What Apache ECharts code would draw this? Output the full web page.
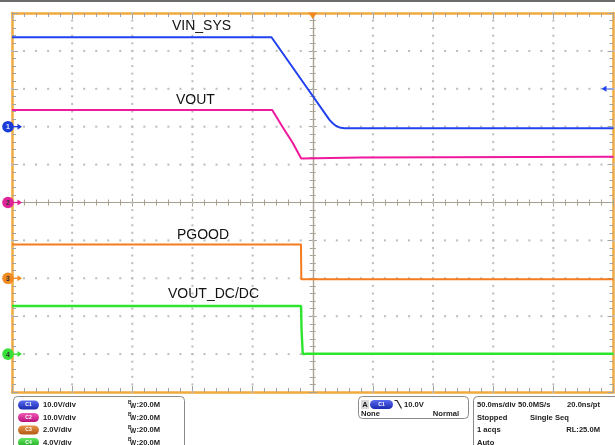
<!DOCTYPE html>
<html>
<head>
<meta charset="utf-8">
<script src="https://cdn.jsdelivr.net/npm/echarts@6/dist/echarts.min.js"></script>
<style>
  html, body { margin: 0; padding: 0; background: #ffffff; }
  #scope { width: 615px; height: 445px; }
</style>
</head>
<body>
<div id="scope"></div>
<script>
// Horizontal scale: 50 ms/div, 10 divisions, trigger at t = 0
const timeMin = -250;
const timeMax = 250;
const msPerDiv = 50;

// Channel setup
const channelNames = ['VIN_SYS', 'VOUT', 'PGOOD', 'VOUT_DC/DC'];
const voltsPerDiv = [10, 10, 2, 4];
const groundDiv = [2, 0, -2, -4];
const scaleLabels = ['10.0V/div', '10.0V/div', '2.0V/div', '4.0V/div'];
const bandwidthLabels = [':20.0M', ':20.0M', ':20.0M', ':20.0M'];

// Captured waveforms (time in ms, level in V)
const ch1Time  = [-250, -34.3, 0, 13.9, 16.6, 19.4, 22.2, 26.3, 250];
const ch1Volts = [23.6, 23.6, 8.1, 1.8, 0.9, 0.2, -0.2, -0.4, -0.4];

const ch2Time  = [-250, -33.7, -25.2, -16.6, -9.6, -8.5, 40, 250];
const ch2Volts = [24.4, 24.4, 20.0, 15.7, 11.6, 11.7, 11.9, 12.1];

const ch3Time  = [-250, -9.8, -9.5, 250];
const ch3Volts = [1.79, 1.79, -0.05, -0.05];

const ch4Time  = [-250, -9.7, -9.3, -8.3, -7.5, -5, 250];
const ch4Volts = [5.08, 5.08, 2.5, 0.0, -0.1, 0.04, 0.04];

// Trigger: channel 1, falling edge, 10.0 V
const triggerChannel = 0;
const triggerLevel = 10.0;
const triggerTime = 0;

// Acquisition readout
const timebaseText = ['50.0ms/div 50.0MS/s', '20.0ns/pt'];
const acqRows = [['Stopped', 'Single Seq'], ['1 acqs', 'RL:25.0M'], ['Auto', '']];

const traceColors = ['#2140ee', '#f0189c', '#f57c1e', '#2ee52e'];
const markerColors = ['#1b3bd6', '#e0239a', '#f28a22', '#3ae03a'];
const pillTop = ['#5a6cf0', '#f25ab8', '#e8934a', '#62e862'];
const pillBottom = ['#1a2ab0', '#b8107a', '#b25a14', '#1fa81f'];
const frameColor = '#f0aa3e';
const tickColor = '#a3a3a3';
const crossColor = '#a8a090';
const dotColor = '#bcbcbc';
const textFont = 'Liberation Sans, Arial, sans-serif';

const traceTimes = [ch1Time, ch2Time, ch3Time, ch4Time];
const traceVolts = [ch1Volts, ch2Volts, ch3Volts, ch4Volts];

// Convert a channel's volts to screen divisions using its scale and offset
function toDivisions(ch) {
  return traceTimes[ch].map((t, i) => [t, groundDiv[ch] + traceVolts[ch][i] / voltsPerDiv[ch]]);
}

const chart = echarts.init(document.getElementById('scope'), null, { renderer: 'canvas' });

const hiddenLabel = { show: false };

function frameX(position) {
  return {
    type: 'value', min: timeMin, max: timeMax, interval: msPerDiv, position: position,
    axisLine: { show: true, onZero: false, lineStyle: { color: frameColor, width: 2.5 } },
    axisTick: { show: true, inside: true, length: 6, lineStyle: { color: tickColor, width: 1 } },
    minorTick: { show: true, splitNumber: 5, length: 4, lineStyle: { color: tickColor, width: 1 } },
    axisLabel: hiddenLabel, splitLine: { show: false }
  };
}
function centerX(inside) {
  return {
    type: 'value', min: timeMin, max: timeMax, interval: msPerDiv, position: 'bottom',
    axisLine: { show: true, onZero: true, onZeroAxisIndex: 0, lineStyle: { color: crossColor, width: 1.2 } },
    axisTick: { show: true, inside: inside, length: 4, lineStyle: { color: crossColor, width: 1 } },
    minorTick: { show: true, splitNumber: 5, length: 3, lineStyle: { color: crossColor, width: 1 } },
    axisLabel: hiddenLabel, splitLine: { show: false }
  };
}
function frameY(position) {
  return {
    type: 'value', min: -5, max: 5, interval: 1, position: position,
    axisLine: { show: true, onZero: false, lineStyle: { color: frameColor, width: 2.5 } },
    axisTick: { show: true, inside: true, length: 6, lineStyle: { color: tickColor, width: 1 } },
    minorTick: { show: true, splitNumber: 5, length: 4, lineStyle: { color: tickColor, width: 1 } },
    axisLabel: hiddenLabel, splitLine: { show: false }
  };
}
function centerY(inside) {
  return {
    type: 'value', min: -5, max: 5, interval: 1, position: 'left',
    axisLine: { show: true, onZero: true, onZeroAxisIndex: 0, lineStyle: { color: crossColor, width: 1.2 } },
    axisTick: { show: true, inside: inside, length: 4, lineStyle: { color: crossColor, width: 1 } },
    minorTick: { show: true, splitNumber: 5, length: 3, lineStyle: { color: crossColor, width: 1 } },
    axisLabel: hiddenLabel, splitLine: { show: false }
  };
}

// Dotted graticule: one item per division line, dots every 1/5 division
const graticuleKinds = [];
const graticulePos = [];
for (let d = -4; d <= 4; d++) {
  if (d !== 0) {
    graticuleKinds.push('v'); graticulePos.push(d);
    graticuleKinds.push('h'); graticulePos.push(d);
  }
}
const graticuleSeries = {
  type: 'custom', xAxisIndex: 0, yAxisIndex: 0, clip: false, z: 1, silent: true, animation: false,
  data: graticulePos.map((d, i) => [0, 0, i]),
  renderItem: function (params, api) {
    const i = api.value(2);
    const vertical = graticuleKinds[i] === 'v';
    const d = graticulePos[i];
    const dots = [];
    for (let k = 0; k <= 50; k++) {
      const p = vertical
        ? api.coord([d * msPerDiv, -5 + k * 0.2])
        : api.coord([timeMin + k * msPerDiv / 5, d]);
      dots.push({ type: 'rect', shape: { x: p[0] - 1, y: p[1] - 1, width: 2, height: 2 }, style: { fill: dotColor } });
    }
    return { type: 'group', children: dots };
  }
};

const traceSeries = channelNames.map((name, ch) => ({
  name: name, type: 'line', xAxisIndex: 0, yAxisIndex: 0,
  data: toDivisions(ch), showSymbol: false, symbol: 'none', smooth: false,
  lineStyle: { color: traceColors[ch], width: ch === 3 ? 2.4 : 2 },
  z: 10 - ch, animation: false
}));

// Channel ground markers on the left edge
const markerSeries = {
  type: 'custom', xAxisIndex: 0, yAxisIndex: 0, clip: false, z: 20, animation: false,
  data: groundDiv.map((g, ch) => [timeMin, g, ch]),
  renderItem: function (params, api) {
    const p = api.coord([api.value(0), api.value(1)]);
    const ch = api.value(2);
    const col = markerColors[ch];
    const cx = p[0] - 4, cy = p[1];
    return {
      type: 'group', children: [
        { type: 'line', shape: { x1: cx + 4, y1: cy, x2: cx + 11, y2: cy }, style: { stroke: col, lineWidth: 1.3 } },
        { type: 'polygon', shape: { points: [[cx + 14, cy], [cx + 9.5, cy - 3], [cx + 9.5, cy + 3]] }, style: { fill: col } },
        { type: 'circle', shape: { cx: cx, cy: cy, r: 5.8 }, style: { fill: col } },
        { type: 'text', x: cx, y: cy + 0.5, style: { text: String(ch + 1), align: 'center', verticalAlign: 'middle', font: 'bold 7px ' + textFont, fill: ch === 0 ? '#e8ecff' : '#333' } }
      ]
    };
  }
};

// Trigger position (top) and trigger level (right edge)
const triggerSeries = {
  type: 'custom', xAxisIndex: 0, yAxisIndex: 0, clip: false, z: 20, animation: false,
  data: [[triggerTime, 5, 0], [timeMax, groundDiv[triggerChannel] + triggerLevel / voltsPerDiv[triggerChannel], 1]],
  renderItem: function (params, api) {
    const p = api.coord([api.value(0), api.value(1)]);
    if (api.value(2) === 0) {
      return { type: 'polygon', shape: { points: [[p[0] - 4.5, p[1] - 0.5], [p[0] + 4.5, p[1] - 0.5], [p[0], p[1] + 6]] }, style: { fill: '#f28a22' } };
    }
    return {
      type: 'group', children: [
        { type: 'line', shape: { x1: p[0] - 8, y1: p[1], x2: p[0], y2: p[1] }, style: { stroke: '#8ea2f2', lineWidth: 1.5 } },
        { type: 'polygon', shape: { points: [[p[0] - 12, p[1]], [p[0] - 7, p[1] - 3], [p[0] - 7, p[1] + 3]] }, style: { fill: traceColors[triggerChannel] } }
      ]
    };
  }
};

// Waveform names drawn on the screen
const labelPos = [[172, 26.5], [176, 100], [177, 235.5], [168, 294.5]];
const graphics = [
  { type: 'rect', shape: { x: 0, y: 0, width: 615, height: 2 }, style: { fill: '#6b6b6b' }, z: 100 }
];
channelNames.forEach((name, ch) => {
  graphics.push({ type: 'text', x: labelPos[ch][0], y: labelPos[ch][1], z: 100,
    style: { text: name, font: '14px ' + textFont, fill: '#111', verticalAlign: 'middle' } });
});

// Readout panels
const rowY = [405, 417.5, 430, 442.5];
const boldSmall = 'bold 7.6px ' + textFont;
const pillFill = ch => new echarts.graphic.LinearGradient(0, 0, 0, 1, [{ offset: 0, color: pillTop[ch] }, { offset: 1, color: pillBottom[ch] }]);
graphics.push({ type: 'rect', shape: { x: 13.5, y: 396.5, width: 171, height: 60, r: 4 }, style: { fill: '#fff', stroke: '#8a8a8a', lineWidth: 1 }, z: 90 });
scaleLabels.forEach((lab, ch) => {
  const y = rowY[ch];
  graphics.push({ type: 'rect', shape: { x: 18, y: y - 4.5, width: 21, height: 9, r: 4.5 }, z: 95, style: { fill: pillFill(ch) } });
  graphics.push({ type: 'text', x: 28.5, y: y, z: 96, style: { text: 'C' + (ch + 1), font: 'bold 5px ' + textFont, fill: '#ffffff', align: 'center', verticalAlign: 'middle' } });
  graphics.push({ type: 'text', x: 43, y: y, z: 96, style: { text: lab, font: boldSmall, fill: '#222', verticalAlign: 'middle' } });
  graphics.push({ type: 'text', x: 128, y: y - 2.5, z: 96, style: { text: 'B', font: 'bold 5px ' + textFont, fill: '#222', verticalAlign: 'middle' } });
  graphics.push({ type: 'text', x: 130, y: y + 1, z: 96, style: { text: 'W', font: 'bold 6.5px ' + textFont, fill: '#222', verticalAlign: 'middle' } });
  graphics.push({ type: 'text', x: 136.5, y: y, z: 96, style: { text: bandwidthLabels[ch], font: boldSmall, fill: '#222', verticalAlign: 'middle' } });
});

// Trigger readout
graphics.push({ type: 'rect', shape: { x: 358.5, y: 396.5, width: 110, height: 22, r: 4 }, style: { fill: '#fff', stroke: '#8a8a8a', lineWidth: 1 }, z: 90 });
graphics.push({ type: 'rect', shape: { x: 361, y: 400, width: 8, height: 9 }, style: { fill: '#d9d9d9' }, z: 95 });
graphics.push({ type: 'text', x: 365, y: 404.8, z: 96, style: { text: 'A', font: boldSmall, fill: '#222', align: 'center', verticalAlign: 'middle' } });
graphics.push({ type: 'rect', shape: { x: 370, y: 400, width: 23, height: 9, r: 4.5 }, z: 95, style: { fill: pillFill(0) } });
graphics.push({ type: 'text', x: 381.5, y: 404.5, z: 96, style: { text: 'C1', font: 'bold 5px ' + textFont, fill: '#fff', align: 'center', verticalAlign: 'middle' } });
graphics.push({ type: 'polyline', shape: { points: [[394.5, 400.5], [397, 400.5], [401.5, 408.5]] }, style: { stroke: '#222', lineWidth: 1.2, fill: null }, z: 96 });
graphics.push({ type: 'text', x: 404, y: 404.5, z: 96, style: { text: triggerLevel.toFixed(1) + 'V', font: boldSmall, fill: '#222', verticalAlign: 'middle' } });
graphics.push({ type: 'text', x: 361, y: 413.5, z: 96, style: { text: 'None', font: boldSmall, fill: '#222', verticalAlign: 'middle' } });
graphics.push({ type: 'text', x: 459, y: 413.5, z: 96, style: { text: 'Normal', font: boldSmall, fill: '#222', align: 'right', verticalAlign: 'middle' } });

// Acquisition readout
graphics.push({ type: 'rect', shape: { x: 473.5, y: 396.5, width: 150, height: 60, r: 4 }, style: { fill: '#fff', stroke: '#8a8a8a', lineWidth: 1 }, z: 90 });
graphics.push({ type: 'text', x: 477, y: rowY[0], z: 96, style: { text: timebaseText[0], font: boldSmall, fill: '#222', verticalAlign: 'middle' } });
graphics.push({ type: 'text', x: 600, y: rowY[0], z: 96, style: { text: timebaseText[1], font: boldSmall, fill: '#222', align: 'right', verticalAlign: 'middle' } });
acqRows.forEach((row, i) => {
  const y = rowY[i + 1];
  graphics.push({ type: 'text', x: 477, y: y, z: 96, style: { text: row[0], font: boldSmall, fill: '#222', verticalAlign: 'middle' } });
  if (row[1]) {
    const rightAlign = i === 1;
    graphics.push({ type: 'text', x: rightAlign ? 600 : 530, y: y, z: 96,
      style: { text: row[1], font: boldSmall, fill: '#222', align: rightAlign ? 'right' : 'left', verticalAlign: 'middle' } });
  }
});

chart.setOption({
  animation: false,
  backgroundColor: '#ffffff',
  grid: { left: 12, top: 13, width: 601.5, height: 379, containLabel: false },
  xAxis: [frameX('bottom'), frameX('top'), centerX(true), centerX(false)],
  yAxis: [frameY('left'), frameY('right'), centerY(true), centerY(false)],
  series: [graticuleSeries].concat(traceSeries, [markerSeries, triggerSeries]),
  graphic: graphics
});
</script>
</body>
</html>
